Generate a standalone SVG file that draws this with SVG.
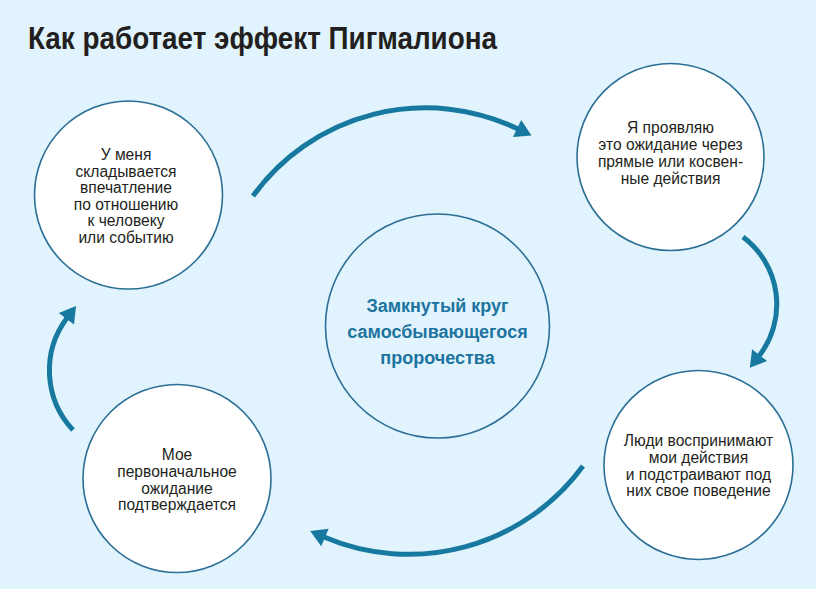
<svg xmlns="http://www.w3.org/2000/svg" width="816" height="589" viewBox="0 0 816 589">
<style>
.bg{fill:#e1f3fc}
.node{fill:#ffffff;stroke:#2b6f96;stroke-width:1.6}
.center{fill:none;stroke:#2b6f96;stroke-width:1.6}
.t{font-family:"Liberation Sans",Arial,sans-serif;font-size:15.6px;fill:#231f20;text-anchor:middle}
.ct{font-family:"Liberation Sans",Arial,sans-serif;font-size:18px;font-weight:bold;fill:#1d74a0;text-anchor:middle}
.title{font-family:"Liberation Sans",Arial,sans-serif;font-size:32px;font-weight:bold;fill:#231f20}
.arr{fill:none;stroke:#17799f;stroke-width:5;marker-end:url(#ah)}
</style>
<defs>
<marker id="ah" markerUnits="userSpaceOnUse" viewBox="-2 -11 22 22" markerWidth="22" markerHeight="22" refX="0" refY="0" orient="auto">
<path d="M-1,-9.5 L15,0 L-1,9.5 Z" fill="#17799f"/>
</marker>
</defs>
<rect class="bg" x="0" y="0" width="816" height="589"/>
<text class="title" x="28" y="49" textLength="469" lengthAdjust="spacingAndGlyphs">Как работает эффект Пигмалиона</text>

<g id="connectors">
<path class="arr" d="M253,196 A213,213 0 0 1 518,129"/>
<path class="arr" d="M743,237 A84,84 0 0 1 759,356"/>
<path class="arr" d="M583,466 A216,216 0 0 1 324,537"/>
<path class="arr" d="M73,430 A87,87 0 0 1 67,318"/>
</g>

<g id="center">
<circle class="center" cx="437.5" cy="326" r="112"/>
<text class="ct" x="437.5" y="312">Замкнутый круг</text>
<text class="ct" x="437.5" y="338">самосбывающегося</text>
<text class="ct" x="437.5" y="364">пророчества</text>
</g>

<g id="node1">
<circle class="node" cx="128.5" cy="195" r="94"/>
<text class="t" x="126" y="160">У меня</text>
<text class="t" x="126" y="176.5">складывается</text>
<text class="t" x="126" y="193">впечатление</text>
<text class="t" x="126" y="209.5">по отношению</text>
<text class="t" x="126" y="226">к человеку</text>
<text class="t" x="126" y="242.5">или событию</text>
</g>

<g id="node2">
<circle class="node" cx="670.5" cy="157" r="93.5"/>
<text class="t" x="670.5" y="133">Я проявляю</text>
<text class="t" x="670.5" y="150">это ожидание через</text>
<text class="t" x="670.5" y="167">прямые или косвен-</text>
<text class="t" x="670.5" y="184">ные действия</text>
</g>

<g id="node3">
<circle class="node" cx="698.5" cy="465" r="94.5"/>
<text class="t" x="698.5" y="446">Люди воспринимают</text>
<text class="t" x="698.5" y="463">мои действия</text>
<text class="t" x="698.5" y="479.5">и подстраивают под</text>
<text class="t" x="698.5" y="496">них свое поведение</text>
</g>

<g id="node4">
<circle class="node" cx="177" cy="478.5" r="94"/>
<text class="t" x="177" y="460">Мое</text>
<text class="t" x="177" y="477">первоначальное</text>
<text class="t" x="177" y="493.5">ожидание</text>
<text class="t" x="177" y="510">подтверждается</text>
</g>
</svg>
